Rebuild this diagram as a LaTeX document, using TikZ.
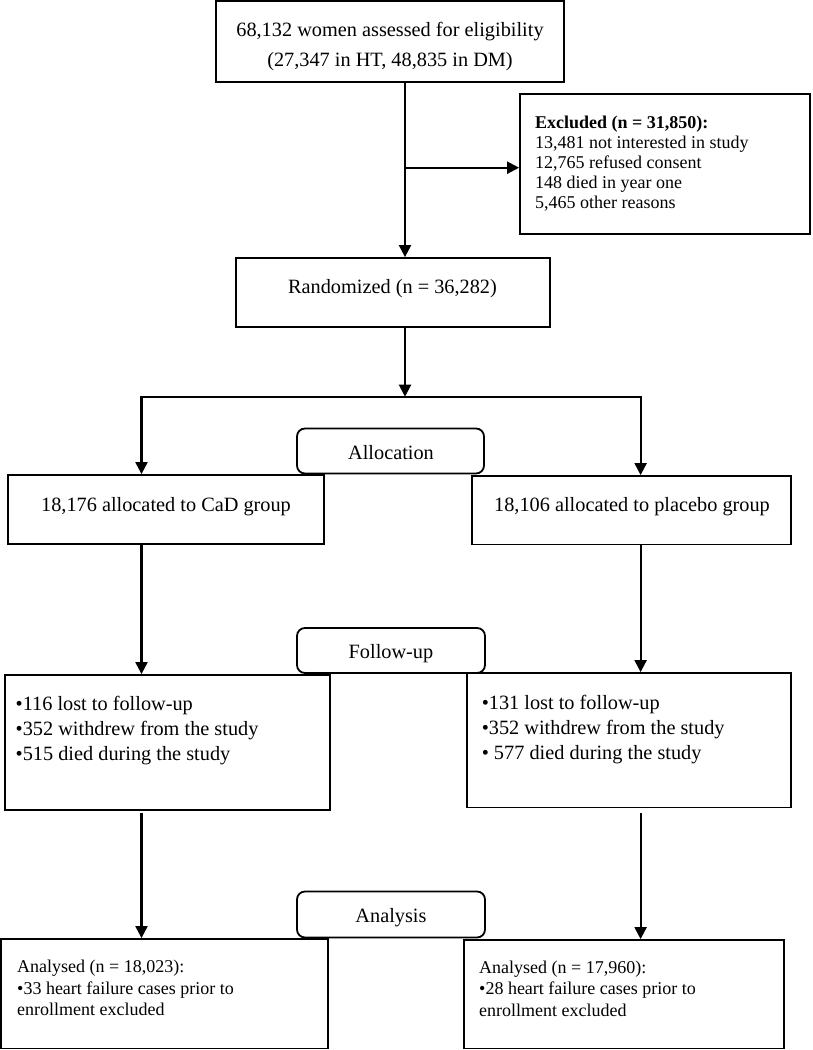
\documentclass[tikz,border=0pt]{standalone}
\usepackage{fontspec}
\setmainfont{Liberation Serif}
\usetikzlibrary{arrows.meta}
\begin{document}
\begin{tikzpicture}[x=1pt,y=-1pt,
  box/.style={draw, line width=1.8pt, inner sep=0pt},
  stagebox/.style={box, rounded corners=8pt},
  txt/.style={inner sep=0pt, anchor=base, font=\fontsize{20.3}{24}\selectfont},
  ltxt/.style={inner sep=0pt, anchor=base west},
  arr/.style={line width=2.1pt, -{Triangle[length=12pt,width=12pt]}},
  ln/.style={line width=2.1pt}]
\useasboundingbox (0,0) rectangle (812,1050);

% boxes
\node[box, minimum width=348pt, minimum height=81pt] (top) at (390,41.5) {};
\node[box, minimum width=290pt, minimum height=140pt] (excl) at (665,164) {};
\node[box, minimum width=314pt, minimum height=69pt] (rand) at (393,292.5) {};
\node[stagebox, minimum width=187pt, minimum height=45pt] (alloc) at (390.5,451) {};
\node[box, minimum width=316pt, minimum height=69pt] (cad) at (166,509.5) {};
\node[box, minimum width=319pt, minimum height=68.5pt] (plac) at (631.5,510.25) {};
\node[stagebox, minimum width=188pt, minimum height=45pt] (follow) at (391,650.5) {};
\node[box, minimum width=325pt, minimum height=135pt] (fl) at (167.5,742.5) {};
\node[box, minimum width=324pt, minimum height=134.5pt] (fr) at (629,740.25) {};
\node[stagebox, minimum width=188pt, minimum height=46pt] (anal) at (391,914.5) {};
\node[box, minimum width=327pt, minimum height=109.5pt] (al) at (164.5,993.75) {};
\node[box, minimum width=320pt, minimum height=108.5pt] (ar) at (624,994.25) {};

% texts
\node[txt, font=\fontsize{20.3}{30.7}\selectfont] (topt) at (390,36)
  {\begin{tabular}[t]{@{}c@{}}68,132 women assessed for eligibility\\(27,347 in HT, 48,835 in DM)\end{tabular}};
\node[ltxt, font=\fontsize{18}{20}\selectfont] (exclt) at (535,128.3)
  {\begin{tabular}[t]{@{}l@{}}\textbf{Excluded (n = 31,850):}\\13,481 not interested in study\\12,765 refused consent\\148 died in year one\\5,465 other reasons\end{tabular}};
\node[txt] (randt) at (392.5,293.3) {Randomized (n = 36,282)};
\node[txt] (alloct) at (391,459.3) {Allocation};
\node[txt] (cadt) at (166,511.5) {18,176 allocated to CaD group};
\node[txt] (plact) at (632,511.5) {18,106 allocated to placebo group};
\node[txt] (followt) at (391,658.3) {Follow-up};
\node[ltxt, font=\fontsize{20.3}{25}\selectfont] (flt) at (15.5,710)
  {\begin{tabular}[t]{@{}l@{}}•116 lost to follow-up\\•352 withdrew from the study\\•515 died during the study\end{tabular}};
\node[ltxt, font=\fontsize{20.3}{25}\selectfont] (frt) at (481.6,709)
  {\begin{tabular}[t]{@{}l@{}}•131 lost to follow-up\\•352 withdrew from the study\\• 577 died during the study\end{tabular}};
\node[txt] (analt) at (391,922.7) {Analysis};
\node[ltxt, font=\fontsize{18}{21.5}\selectfont] (alt) at (17,972.7)
  {\begin{tabular}[t]{@{}l@{}}Analysed (n = 18,023):\\•33 heart failure cases prior to\\enrollment excluded\end{tabular}};
\node[ltxt, font=\fontsize{18}{21.5}\selectfont] (art) at (479,973)
  {\begin{tabular}[t]{@{}l@{}}Analysed (n = 17,960):\\•28 heart failure cases prior to\\enrollment excluded\end{tabular}};

% connectors
\coordinate (mx) at (405,0);
\coordinate (lx) at (141.5,0);
\coordinate (rx) at (640.6,0);
\coordinate (ex) at (405,167.7);
\coordinate (split) at (405,396.7);
\coordinate (sl) at (141.5,396.7);
\coordinate (sr) at (640.6,396.7);
\draw[arr] (top.south -| mx) -- (rand.north -| mx);
\draw[arr] (ex) -- (ex -| excl.west);
\draw[arr] (rand.south -| mx) -- (split);
\draw[ln, line cap=rect] (sl) -- (sr);
\draw[arr] (sl) -- (cad.north -| lx);
\draw[arr] (sr) -- (plac.north -| rx);
\draw[arr] (cad.south -| lx) -- (fl.north -| lx);
\draw[arr] (plac.south -| rx) -- (fr.north -| rx);
\draw[arr] ([yshift=-2pt]fl.south -| lx) -- (al.north -| lx);
\draw[arr] ([yshift=-5pt]fr.south -| rx) -- (ar.north -| rx);
\end{tikzpicture}
\end{document}
